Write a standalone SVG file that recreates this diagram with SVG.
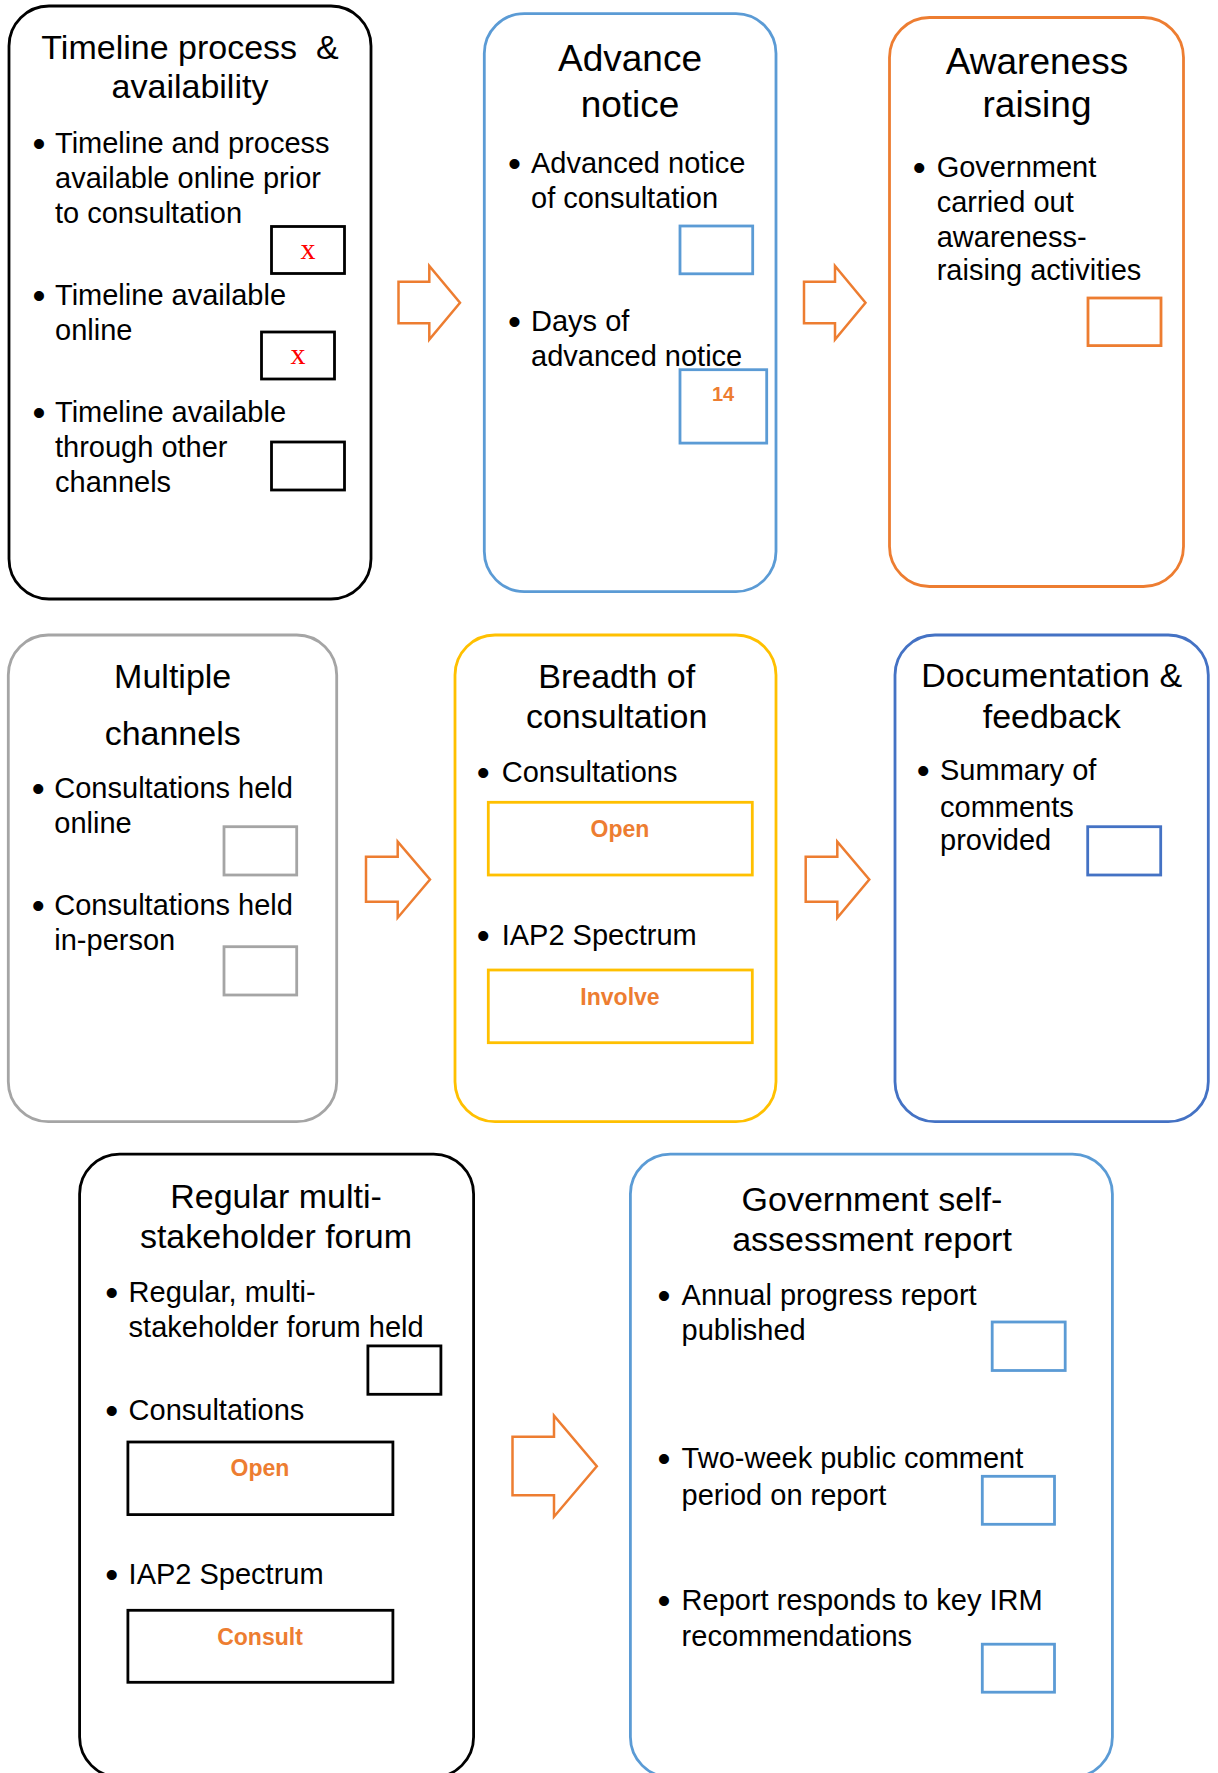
<svg xmlns="http://www.w3.org/2000/svg" width="1218" height="1773" viewBox="0 0 1218 1773">
<style>
text{font-family:"Liberation Sans",Arial,sans-serif;fill:#000}
.t{font-size:34px;text-anchor:middle}
.tl{font-size:37px;text-anchor:middle}
.b{font-size:29px}
.d{font-size:37px;text-anchor:middle}
.v{font-size:23px;font-weight:bold;fill:#ED7D31;text-anchor:middle}
.x{font-family:"Liberation Serif","Times New Roman",serif;font-size:30px;fill:#FF0000;text-anchor:middle}
.node{fill:#fff;stroke-width:2.8}
.box{fill:#fff;stroke-width:2.8}
.k{stroke:#000}
.bl{stroke:#5B9BD5}
.or{stroke:#ED7D31}
.gr{stroke:#A5A5A5}
.go{stroke:#FFC000}
.db{stroke:#4472C4}
.arrow{fill:#fff;stroke:#ED7D31;stroke-width:2.5;stroke-linejoin:miter}
</style>
<rect width="1218" height="1773" fill="#fff"/>
<g id="connectors">
<polygon class="arrow" points="398.5,281.7 429.3,281.7 429.3,266 460,302.7 429.3,339.5 429.3,323.3 398.5,323.3"/>
<polygon class="arrow" points="804,281.7 835,281.7 835,266 865.5,302.7 835,339.5 835,323.3 804,323.3"/>
<polygon class="arrow" points="366,856.7 397.7,856.7 397.7,841.7 430,879.5 397.7,917.7 397.7,901.7 366,901.7"/>
<polygon class="arrow" points="805.7,856.7 837.3,856.7 837.3,841.7 869.3,879.5 837.3,917.7 837.3,901.7 805.7,901.7"/>
<polygon class="arrow" points="512.5,1436.7 554,1436.7 554,1415.7 596.8,1466.2 554,1516.7 554,1495.3 512.5,1495.3"/>
</g>
<g id="node-timeline">
<rect class="node k" x="9" y="6" width="362" height="593" rx="40"/>
<text class="t" x="190" y="59" xml:space="preserve">Timeline process  &amp;</text>
<text class="t" x="190" y="98">availability</text>
<text class="d" x="39" y="156">•</text>
<text class="b" x="55" y="153">Timeline and process</text>
<text class="b" x="55" y="188">available online prior</text>
<text class="b" x="55" y="223">to consultation</text>
<rect class="box k" x="271.5" y="226.5" width="73" height="47"/>
<text class="x" x="308" y="258.5">x</text>
<text class="d" x="39" y="308">•</text>
<text class="b" x="55" y="305">Timeline available</text>
<text class="b" x="55" y="340">online</text>
<rect class="box k" x="261.5" y="332" width="73" height="47"/>
<text class="x" x="298" y="364">x</text>
<text class="d" x="39" y="424.5">•</text>
<text class="b" x="55" y="421.5">Timeline available</text>
<text class="b" x="55" y="457">through other</text>
<text class="b" x="55" y="492">channels</text>
<rect class="box k" x="271.5" y="442" width="73" height="48"/>
</g>
<g id="node-advance">
<rect class="node bl" x="484.3" y="13.6" width="291.7" height="578" rx="40"/>
<text class="tl" x="630" y="71">Advance</text>
<text class="tl" x="630" y="116.5">notice</text>
<text class="d" x="514.5" y="176">•</text>
<text class="b" x="531" y="173">Advanced notice</text>
<text class="b" x="531" y="208">of consultation</text>
<rect class="box bl" x="680" y="226" width="72.7" height="47.8"/>
<text class="d" x="514.5" y="334.3">•</text>
<text class="b" x="531" y="331.3">Days of</text>
<text class="b" x="531" y="366.3">advanced notice</text>
<rect class="box bl" x="680" y="369.7" width="86.7" height="73.4"/>
<text class="v" x="723" y="401" style="font-size:20px">14</text>
</g>
<g id="node-awareness">
<rect class="node or" x="889.5" y="17.5" width="294" height="569" rx="40"/>
<text class="tl" x="1037" y="74">Awareness</text>
<text class="tl" x="1037" y="116.5">raising</text>
<text class="d" x="919.3" y="179.7">•</text>
<text class="b" x="936.7" y="176.7">Government</text>
<text class="b" x="936.7" y="211.7">carried out</text>
<text class="b" x="936.7" y="246.6">awareness-</text>
<text class="b" x="936.7" y="280.4">raising activities</text>
<rect class="box or" x="1088" y="298" width="73" height="47.6"/>
</g>
<g id="node-channels">
<rect class="node gr" x="8.3" y="635" width="328.4" height="486.7" rx="40"/>
<text class="t" x="172.7" y="688">Multiple</text>
<text class="t" x="172.7" y="745">channels</text>
<text class="d" x="38.3" y="801">•</text>
<text class="b" x="54.3" y="798">Consultations held</text>
<text class="b" x="54.3" y="832.7">online</text>
<rect class="box gr" x="224" y="826.7" width="72.7" height="48.3"/>
<text class="d" x="38.3" y="918">•</text>
<text class="b" x="54.3" y="915">Consultations held</text>
<text class="b" x="54.3" y="950">in-person</text>
<rect class="box gr" x="224" y="946.7" width="72.7" height="48.3"/>
</g>
<g id="node-breadth">
<rect class="node go" x="455" y="635" width="321" height="486.7" rx="40"/>
<text class="t" x="616.7" y="688.3">Breadth of</text>
<text class="t" x="616.7" y="728.3">consultation</text>
<text class="d" x="483.3" y="784.7">•</text>
<text class="b" x="501.7" y="781.7">Consultations</text>
<rect class="box go" x="488.3" y="802.3" width="264" height="72.7"/>
<text class="v" x="620" y="836.7">Open</text>
<text class="d" x="483.3" y="948">•</text>
<text class="b" x="501.7" y="945">IAP2 Spectrum</text>
<rect class="box go" x="488.3" y="970" width="264" height="72.7"/>
<text class="v" x="620" y="1005">Involve</text>
</g>
<g id="node-documentation">
<rect class="node db" x="895" y="635" width="313.3" height="486.7" rx="40"/>
<text class="t" x="1051.7" y="686.7">Documentation &amp;</text>
<text class="t" x="1051.7" y="728.3">feedback</text>
<text class="d" x="923.3" y="783">•</text>
<text class="b" x="940" y="780">Summary of</text>
<text class="b" x="940" y="816.7">comments</text>
<text class="b" x="940" y="850">provided</text>
<rect class="box db" x="1087.7" y="826.7" width="73" height="48.3"/>
</g>
<g id="node-forum">
<rect class="node k" x="79.6" y="1154.1" width="394" height="623" rx="40"/>
<text class="t" x="276" y="1207.8">Regular multi-</text>
<text class="t" x="276" y="1248.2">stakeholder forum</text>
<text class="d" x="111.8" y="1304.5">•</text>
<text class="b" x="128.6" y="1301.5">Regular, multi-</text>
<text class="b" x="128.6" y="1336.6">stakeholder forum held</text>
<rect class="box k" x="367.9" y="1345.9" width="73" height="48.4"/>
<text class="d" x="111.8" y="1422.8">•</text>
<text class="b" x="128.6" y="1419.8">Consultations</text>
<rect class="box k" x="127.9" y="1442" width="265" height="72.6"/>
<text class="v" x="260" y="1475.9">Open</text>
<text class="d" x="111.8" y="1587">•</text>
<text class="b" x="128.6" y="1584">IAP2 Spectrum</text>
<rect class="box k" x="127.9" y="1610.3" width="265" height="72"/>
<text class="v" x="260" y="1644.6">Consult</text>
</g>
<g id="node-self-assessment">
<rect class="node bl" x="630.4" y="1154.1" width="482" height="623" rx="40"/>
<text class="t" x="872" y="1210.6">Government self-</text>
<text class="t" x="872" y="1251">assessment report</text>
<text class="d" x="663.9" y="1307.7">•</text>
<text class="b" x="681.6" y="1304.7">Annual progress report</text>
<text class="b" x="681.6" y="1339.8">published</text>
<rect class="box bl" x="992.2" y="1322" width="73" height="48.5"/>
<text class="d" x="663.9" y="1471.2">•</text>
<text class="b" x="681.6" y="1468.2">Two-week public comment</text>
<text class="b" x="681.6" y="1504.6">period on report</text>
<rect class="box bl" x="982.3" y="1476.3" width="72.2" height="48"/>
<text class="d" x="663.9" y="1613.3">•</text>
<text class="b" x="681.6" y="1610.3">Report responds to key IRM</text>
<text class="b" x="681.6" y="1645.5">recommendations</text>
<rect class="box bl" x="982.3" y="1644.2" width="72.2" height="48"/>
</g>
</svg>
